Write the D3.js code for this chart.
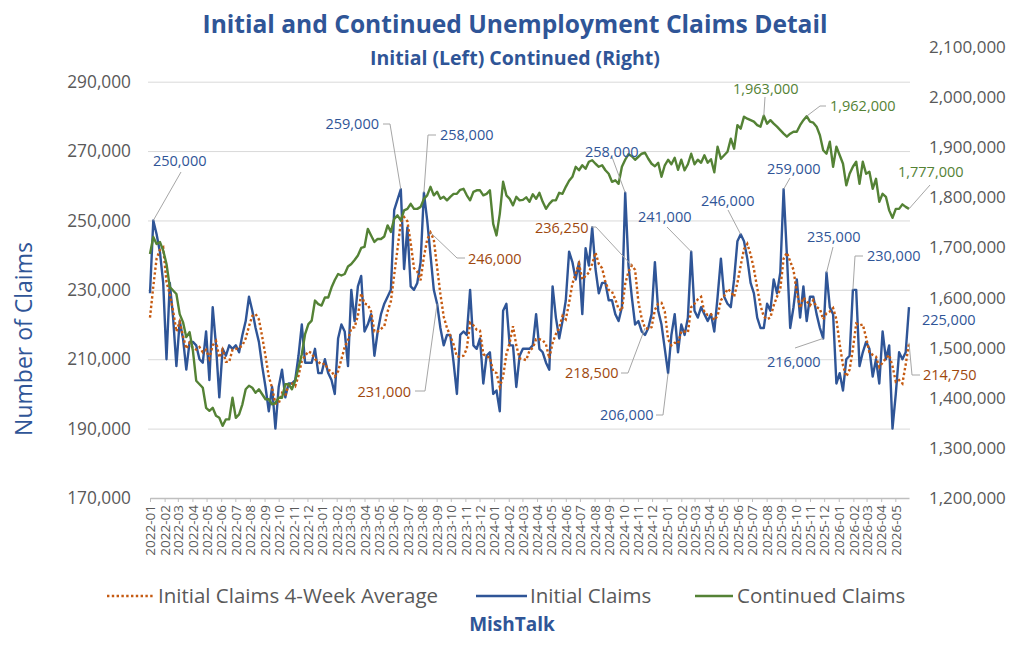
<!DOCTYPE html>
<html>
<head>
<meta charset="utf-8">
<script src="https://cdn.jsdelivr.net/npm/d3@7"></script>
<style>
  body { margin: 0; background: #fff; }
  svg { font-family: "Open Sans", "Noto Sans", sans-serif; }
</style>
</head>
<body>
<svg id="chart" width="1024" height="663"></svg>
<script>
// weekly series, values in thousands, first week ending 2022-01-01
const firstWeek = new Date(2022, 0, 1);

const initialClaims = [
  229,250,246,241,232,210,232,222,208,221,
  216,207,215,215,214,210,209,218,204,225,
  214,199,213,211,214,213,214,212,217,221,
  228,224,219,215,208,202,195,202,190,202,
  207,199,203,203,204,211,220,209,209,209,
  213,206,206,210,206,204,200,216,220,218,
  208,230,221,231,234,218,220,223,211,218,
  223,226,228,230,253,256,259,236,248,231,
  230,232,238,258,250,240,230,226,219,214,
  217,217,209,200,217,218,217,230,214,213,
  216,203,211,212,200,201,195,224,226,214,
  214,202,211,213,213,213,214,223,213,212,
  209,207,231,222,216,221,227,241,238,233,
  238,223,242,237,248,236,229,232,232,227,
  227,223,221,225,258,237,228,220,221,218,
  217,219,223,238,224,220,213,206,217,223,
  212,220,217,222,241,224,222,225,223,221,
  223,218,228,239,228,226,225,233,244,246,
  244,239,232,229,222,219,219,226,224,233,
  229,235,259,240,219,225,233,222,231,221,
  228,228,223,219,216,235,225,223,203,206,
  201,210,211,230,230,208,212,215,213,205,
  210,203,218,210,214,190,200,212,210,212,
  225
];

const initialAvg4 = [
  222,231,239,241.5,242.25,232.25,228.75,224,218,220.75,
  216.75,213,214.75,213.25,212.75,213.5,212,212.75,210.25,214,
  215.25,210.5,212.75,209.25,209.25,212.75,213,213.25,214,216,
  219.5,222.5,223,221.5,216.5,211,205,201.75,197.25,197.25,
  200.25,199.5,202.75,203,202.25,205.25,209.5,211,212.25,211.75,
  210,209.25,208.5,208.75,207,206.5,205,206.5,210,213.5,
  215.5,219,219.25,222.5,229,226,225.75,223.75,218,218,
  218.75,219.5,223.75,226.75,234.25,241.75,249.5,251,249.75,243.5,
  236.25,235.25,232.75,239.5,244.5,246.5,244.5,236.5,228.75,222.25,
  219,216.75,214.25,210.75,210.75,211,213,220.5,219.75,218.5,
  218.25,211.5,210.75,210.5,206.5,206,202,205,211.5,214.75,
  219.5,214,210.25,210,209.75,212.5,213.25,215.75,215.75,215.5,
  214.25,210.25,214.75,217.25,219,222.5,221.5,226.25,231.75,234.75,
  237.5,233,234,235,237.5,240.75,237.5,236.25,232.25,230,
  229.5,227.25,224.5,224,231.75,235.25,237,235.75,226.5,221.75,
  219,218.75,219.25,224.25,226,226.25,223.75,215.75,214,214.75,
  214.5,218,218,217.75,225,226,227.25,228,223.5,222.75,
  223,221.25,222.5,227,228.25,230.25,229.5,228,232,237,
  241.75,243.25,240.25,236,230.5,225.5,222.25,221.5,222,225.5,
  228,230.25,239,240.75,238.25,235.75,229.25,224.75,227.75,226.75,
  225.5,227,225,224.5,221.5,223.25,223.75,224.75,221.5,214.25,
  208.25,205,207,213,220.25,219.75,220,216.25,212,211.25,
  210.75,207.75,209,210.25,211.25,208,203.5,204,203,208.5,
  214.75
];

const continuedClaims = [
  1687,1721,1707,1711,1694,1667,1621,1614,1607,1567,
  1551,1521,1531,1494,1434,1427,1420,1380,1374,1380,
  1364,1360,1344,1357,1357,1400,1360,1367,1387,1417,
  1424,1420,1410,1417,1407,1397,1397,1387,1390,1400,
  1400,1427,1427,1417,1434,1460,1487,1527,1547,1554,
  1594,1587,1584,1600,1600,1620,1635,1647,1644,1647,
  1662,1667,1675,1684,1699,1701,1737,1724,1711,1717,
  1717,1722,1744,1731,1757,1764,1754,1774,1777,1787,
  1777,1777,1781,1797,1804,1821,1804,1811,1797,1801,
  1794,1801,1807,1807,1815,1817,1804,1794,1811,1814,
  1814,1804,1807,1814,1747,1724,1767,1831,1804,1797,
  1784,1801,1794,1795,1800,1791,1806,1797,1809,1791,
  1777,1787,1794,1794,1809,1807,1821,1833,1841,1861,
  1854,1864,1857,1871,1874,1867,1861,1864,1854,1847,
  1831,1834,1827,1861,1875,1886,1882,1875,1881,1887,
  1889,1877,1867,1862,1869,1841,1864,1875,1866,1879,
  1855,1875,1854,1866,1887,1866,1875,1869,1884,1869,
  1876,1850,1901,1877,1884,1891,1917,1897,1944,1937,
  1961,1957,1954,1951,1944,1941,1963,1947,1954,1947,
  1941,1934,1927,1921,1927,1931,1931,1944,1954,1962,
  1951,1949,1941,1924,1894,1887,1911,1861,1901,1884,
  1867,1824,1847,1861,1871,1827,1871,1847,1851,1817,
  1837,1791,1807,1801,1774,1759,1777,1777,1786,1781,
  1777
];

const leftTicks = [170, 190, 210, 230, 250, 270, 290];
const rightTicks = [1200, 1300, 1400, 1500, 1600, 1700, 1800, 1900, 2000, 2100];
const seriesNames = ["Initial Claims 4-Week Average", "Initial Claims", "Continued Claims"];

// point labels: which series, which week, shown text
const pointLabels = [
  {series: "ic", week: 1,   text: "250,000"},
  {series: "ic", week: 76,  text: "259,000"},
  {series: "ic", week: 83,  text: "258,000"},
  {series: "ic", week: 87,  text: "231,000", color: "avg"},
  {series: "avg", week: 85, text: "246,000"},
  {series: "ic", week: 144, text: "258,000"},
  {series: "avg", week: 146, text: "236,250"},
  {series: "avg", week: 150, text: "218,500"},
  {series: "ic", week: 157, text: "206,000"},
  {series: "ic", week: 164, text: "241,000"},
  {series: "ic", week: 179, text: "246,000"},
  {series: "ic", week: 192, text: "259,000"},
  {series: "ic", week: 205, text: "235,000"},
  {series: "ic", week: 213, text: "230,000"},
  {series: "ic", week: 204, text: "216,000"},
  {series: "cc", week: 186, text: "1,963,000"},
  {series: "cc", week: 199, text: "1,962,000"},
  {series: "cc", week: 230, text: "1,777,000"},
  {series: "ic", week: 230, text: "225,000"},
  {series: "avg", week: 230, text: "214,750"}
];

// where each label text sits and how its leader line runs (same order)
const labelLayout = [
  {x: 153, y: 161, anchor: "start", leader: [[181, 172]]},
  {x: 379, y: 124, anchor: "end",   leader: [[383, 124], [390, 124]]},
  {x: 440, y: 135, anchor: "start", leader: [[436, 135], [428, 135]]},
  {x: 411, y: 392, anchor: "end",   leader: [[415, 391], [425, 391]]},
  {x: 468, y: 259, anchor: "start", leader: [[465, 258], [457, 258]]},
  {x: 585, y: 152, anchor: "start", leader: [[612, 157]]},
  {x: 535, y: 228, anchor: "start", leader: [[591, 227], [596, 227]]},
  {x: 565, y: 373, anchor: "start", leader: [[621, 373], [628, 373]]},
  {x: 600, y: 415, anchor: "start", leader: [[656, 415], [663, 415]]},
  {x: 638, y: 217, anchor: "start", leader: [[667, 227]]},
  {x: 701, y: 201, anchor: "start", leader: [[728, 210]]},
  {x: 767, y: 169, anchor: "start", leader: [[790, 178]]},
  {x: 807, y: 237, anchor: "start", leader: [[833, 247]]},
  {x: 867, y: 256, anchor: "start", leader: [[863, 256], [855, 256]]},
  {x: 767, y: 362, anchor: "start", leader: [[795, 348]]},
  {x: 733, y: 89,  anchor: "start", leader: [[765, 97]]},
  {x: 830, y: 106, anchor: "start", leader: [[826, 106], [820, 106]]},
  {x: 898, y: 172, anchor: "start", leader: [[930, 185]]},
  {x: 922, y: 320, anchor: "start", leader: []},
  {x: 923, y: 375, anchor: "start", leader: [[920, 375], [912, 375]]}
];

const colors = {ic: "#2F5597", avg: "#C55A11", cc: "#548235"};
const labelColors = {ic: "#2F5597", avg: "#9E480E", cc: "#548235"};
const grayText = "#595959";

const plot = {left: 150, right: 909, top: 47, bottom: 498};

const svg = d3.select("#chart");

const dates = initialClaims.map((d, i) => d3.timeDay.offset(firstWeek, 7 * i));

const xScale = d3.scaleTime()
  .domain([firstWeek, dates[dates.length - 1]])
  .range([plot.left, plot.right]);

const yLeft = d3.scaleLinear().domain([170, 300]).range([plot.bottom, plot.top]);
const yRight = d3.scaleLinear().domain([1200, 2100]).range([plot.bottom, plot.top]);

const fmt = d3.format(",");

// gridlines
const grid = svg.append("g")
  .attr("transform", "translate(148,0)")
  .call(d3.axisLeft(yLeft).tickValues(leftTicks.slice(1)).tickSize(-762).tickFormat(""));
grid.select(".domain").remove();
grid.selectAll("line").attr("stroke", "#D9D9D9").attr("stroke-width", 1);

// left axis labels
const leftAxis = svg.append("g")
  .attr("transform", "translate(148,0)")
  .call(d3.axisLeft(yLeft).tickValues(leftTicks).tickSize(0).tickPadding(17)
    .tickFormat(d => fmt(d * 1000)));
leftAxis.select(".domain").remove();
leftAxis.selectAll("text").attr("fill", grayText).style("font-size", "17.3px")
  .style("font-family", "'Open Sans', sans-serif");

// right axis labels
const rightAxis = svg.append("g")
  .attr("transform", "translate(912,0)")
  .call(d3.axisRight(yRight).tickValues(rightTicks).tickSize(0).tickPadding(17)
    .tickFormat(d => fmt(d * 1000)));
rightAxis.select(".domain").remove();
rightAxis.selectAll("text").attr("fill", grayText).style("font-size", "17px")
  .style("font-family", "'Open Sans', sans-serif");

// x axis, one tick per month
const months = d3.timeMonth.range(firstWeek, new Date(2026, 5, 1));
const xAxis = svg.append("g")
  .attr("transform", "translate(0," + plot.bottom + ")")
  .call(d3.axisBottom(xScale).tickValues(months).tickFormat(d3.timeFormat("%Y-%m"))
    .tickSize(4).tickSizeOuter(0));
xAxis.select(".domain").attr("stroke", "#BFBFBF").attr("stroke-width", 1.3);
xAxis.selectAll("line").attr("stroke", "#BFBFBF");
xAxis.selectAll("text")
  .attr("fill", grayText)
  .style("font-size", "13.5px")
  .style("font-family", "'Open Sans', sans-serif")
  .attr("transform", "rotate(-90)")
  .attr("x", -7)
  .attr("y", 0)
  .attr("dy", "0.35em")
  .style("text-anchor", "end");

// lines
const lineLeft = d3.line().x((d, i) => xScale(dates[i])).y(d => yLeft(d));
const lineRight = d3.line().x((d, i) => xScale(dates[i])).y(d => yRight(d));

svg.append("path").datum(initialClaims)
  .attr("d", lineLeft).attr("fill", "none")
  .attr("stroke", colors.ic).attr("stroke-width", 2.4).attr("stroke-linejoin", "round");

svg.append("path").datum(initialAvg4)
  .attr("d", lineLeft).attr("fill", "none")
  .attr("stroke", colors.avg).attr("stroke-width", 2.4).attr("stroke-dasharray", "2.4,2.4");

svg.append("path").datum(continuedClaims)
  .attr("d", lineRight).attr("fill", "none")
  .attr("stroke", colors.cc).attr("stroke-width", 2.4).attr("stroke-linejoin", "round");

// point labels with leader lines
const seriesValues = {ic: initialClaims, avg: initialAvg4, cc: continuedClaims};
pointLabels.forEach((lab, k) => {
  const lay = labelLayout[k];
  const v = seriesValues[lab.series][lab.week];
  const px = xScale(dates[lab.week]);
  const py = lab.series === "cc" ? yRight(v) : yLeft(v);
  if (lay.leader.length) {
    const pts = lay.leader.concat([[px, py]]);
    svg.append("polyline")
      .attr("points", pts.map(p => p.join(",")).join(" "))
      .attr("fill", "none").attr("stroke", "#A6A6A6").attr("stroke-width", 1);
  }
  svg.append("text")
    .attr("x", lay.x).attr("y", lay.y)
    .attr("dy", "0.35em")
    .attr("text-anchor", lay.anchor)
    .attr("fill", labelColors[lab.color || lab.series])
    .style("font-size", "14.5px")
    .text(lab.text);
});

// titles
svg.append("text").attr("x", 515).attr("y", 33).attr("text-anchor", "middle")
  .attr("fill", "#2F5597").style("font-size", "24.6px").style("font-weight", "bold")
  .text("Initial and Continued Unemployment Claims Detail");
svg.append("text").attr("x", 515).attr("y", 65).attr("text-anchor", "middle")
  .attr("fill", "#2F5597").style("font-size", "19.5px").style("font-weight", "bold")
  .text("Initial (Left) Continued (Right)");

svg.append("text")
  .attr("transform", "translate(24,339) rotate(-90)")
  .attr("text-anchor", "middle").attr("dy", "0.35em")
  .attr("fill", "#2F5597").style("font-size", "23px")
  .text("Number of Claims");

// legend
const legendItems = [
  {name: seriesNames[0], color: colors.avg, dash: "2.4,2.4", x1: 107, x2: 155, tx: 158},
  {name: seriesNames[1], color: colors.ic, dash: null, x1: 476, x2: 527, tx: 530},
  {name: seriesNames[2], color: colors.cc, dash: null, x1: 695, x2: 733, tx: 737}
];
const legend = svg.append("g");
legendItems.forEach(it => {
  legend.append("line")
    .attr("x1", it.x1).attr("x2", it.x2).attr("y1", 596).attr("y2", 596)
    .attr("stroke", it.color).attr("stroke-width", 2.4)
    .attr("stroke-dasharray", it.dash);
  legend.append("text")
    .attr("x", it.tx).attr("y", 596).attr("dy", "0.35em")
    .attr("fill", grayText).style("font-size", "20.5px")
    .text(it.name);
});

svg.append("text").attr("x", 512).attr("y", 631).attr("text-anchor", "middle")
  .attr("fill", "#2F5597").style("font-size", "19px").style("font-weight", "bold")
  .text("MishTalk");
</script>
</body>
</html>
